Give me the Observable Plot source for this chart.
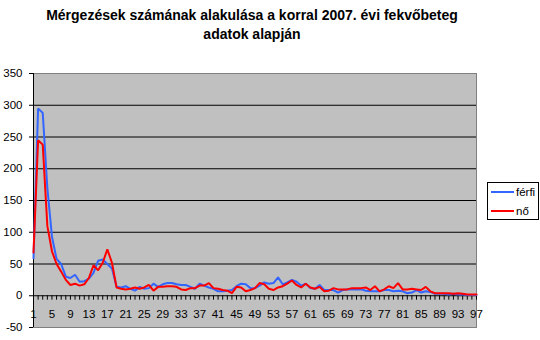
<!DOCTYPE html>
<html>
<head>
<meta charset="utf-8">
<script src="https://cdn.jsdelivr.net/npm/d3@7"></script>
<script src="https://cdn.jsdelivr.net/npm/@observablehq/plot@0.6"></script>
<style>
  html, body { margin: 0; padding: 0; background: #fff; }
  #wrap { position: relative; width: 540px; height: 340px; font-family: "Liberation Sans", Arial, sans-serif; }
  #wrap svg { position: absolute; left: 0; top: 0; }
  #title { position: absolute; left: 0; top: 6px; width: 504px; text-align: center; font-weight: bold; font-size: 14px; line-height: 19px; color: #000; }
  #legend { position: absolute; left: 487px; top: 182px; width: 52px; height: 38px; box-sizing: border-box; border: 1px solid #000; background: #fff; font-size: 11.5px; }
  .item { position: absolute; left: 3px; height: 14px; display: flex; align-items: center; }
  .sw { width: 23px; height: 2px; margin-right: 2px; }
</style>
</head>
<body>
<div id="wrap">
  <div id="title">Mérgezések számának alakulása a korral 2007. évi fekvőbeteg<br>adatok alapján</div>
  <div id="legend"></div>
</div>
<script>
const ages = d3.range(1, 98);
const ferfi = [59,295,288,170,93,58,50,30,28,33,22,23,27,36,55,57,50,43,14,13,15,11,8,14,11,12,19,14,18,20,20,18,17,17,14,11,19,16,13,11,7,7,8,9,15,19,18,12,12,16,21,19,20,29,18,21,25,22,16,19,12,11,17,9,9,9,5,9,10,10,10,10,8,7,7,7,9,9,7,8,7,4,5,9,5,7,6,3,3,3,2,3,2,2,1,1,1];
const no = [68,245,238,110,70,50,38,25,17,19,16,18,28,48,40,52,73,52,13,11,10,11,13,11,13,17,8,14,14,15,15,14,10,9,12,12,16,16,20,12,11,9,8,4,14,13,7,9,12,20,18,11,9,13,15,19,24,17,13,19,13,11,14,7,8,12,10,10,10,12,12,12,13,9,15,7,10,15,12,20,10,10,11,10,9,14,7,4,4,4,4,3,4,3,2,2,2];
const seriesNames = ["férfi", "nő"];
const seriesColors = ["#3366ff", "#ff0000"];
const xLabels = [1,5,9,13,17,21,25,29,33,37,41,45,49,53,57,61,65,69,73,77,81,85,89,93,97];
const yTicks = [-50,0,50,100,150,200,250,300,350];
const gridValues = [50,100,150,200,250,300];

const rows = [];
ages.forEach((a, i) => {
  rows.push({age: a, value: ferfi[i], s: seriesNames[0]});
});
ages.forEach((a, i) => {
  rows.push({age: a, value: no[i], s: seriesNames[1]});
});

const chart = Plot.plot({
  width: 540,
  height: 340,
  marginLeft: 33,
  marginRight: 64,
  marginTop: 73,
  marginBottom: 13,
  style: {background: "transparent", fontFamily: "Liberation Sans, Arial, sans-serif", fontSize: "11px", color: "#000"},
  x: {domain: [1, 97], axis: null},
  y: {domain: [-50, 350]},
  color: {domain: seriesNames, range: seriesColors},
  marks: [
    Plot.frame({fill: "#c0c0c0", stroke: "#808080"}),
    Plot.ruleY(gridValues, {stroke: "#000"}),
    Plot.ruleY([0], {stroke: "#000"}),
    Plot.ruleX([1], {stroke: "#000"}),
    Plot.ruleX(ages, {x: d => d, y1: 0, y2: -7, stroke: "#000"}),
    Plot.axisY({ticks: yTicks, tickSize: 4, tickPadding: 7, tickFormat: d => String(d), fontSize: 11.5, label: null}),
    Plot.text(xLabels, {x: d => d, y: 0, dy: 19, text: d => String(d), fontSize: 11.5, fill: "#000"}),
    Plot.line(rows, {x: "age", y: "value", z: "s", stroke: "s", strokeWidth: 2, strokeLinejoin: "miter"})
  ]
});
document.getElementById("wrap").insertBefore(chart, document.getElementById("title"));

const legend = document.getElementById("legend");
seriesNames.forEach((n, i) => {
  const it = document.createElement("div");
  it.className = "item";
  it.style.top = (i === 0 ? 2 : 21) + "px";
  const sw = document.createElement("span");
  sw.className = "sw";
  sw.style.background = seriesColors[i];
  const t = document.createElement("span");
  t.textContent = n;
  it.appendChild(sw);
  it.appendChild(t);
  legend.appendChild(it);
});
</script>
</body>
</html>
